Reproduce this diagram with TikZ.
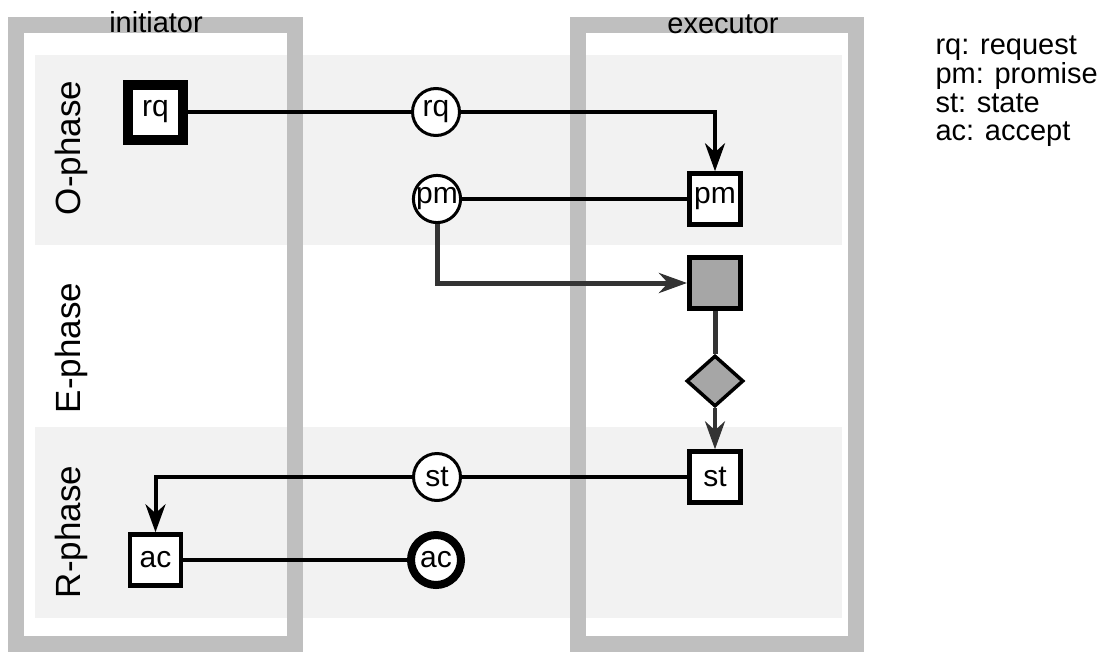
\documentclass[tikz,border=0pt]{standalone}
\usepackage{fontspec}
\setmainfont{Liberation Sans}
\usetikzlibrary{shapes.geometric, arrows.meta}

\definecolor{framegray}{HTML}{BFBFBF}
\definecolor{bandgray}{HTML}{F2F2F2}
\definecolor{taskgray}{HTML}{A6A6A6}

\newcommand{\lbl}{\fontsize{29}{29}\selectfont}
\newcommand{\actlbl}{\fontsize{30}{30}\selectfont}
\tikzstyle{phase} = [font=\fontsize{35}{35}\selectfont, rotate=90, anchor=base]
\tikzstyle{role} = [font=\lbl, anchor=base]
\tikzstyle{act} = [draw, fill=white, line width=4.5pt, minimum size=51pt, inner sep=0pt, font=\actlbl]
\tikzstyle{fact} = [circle, draw, fill=white, line width=3pt, minimum size=47pt, inner sep=0pt, font=\actlbl]
\tikzstyle{flow} = [line width=4pt]
\tikzstyle{arrow} = [flow, -{Stealth[length=28pt,width=20pt,inset=9pt]}]

\begin{document}
\begin{tikzpicture}[x=1pt, y=-1pt]
        \useasboundingbox (0,0) rectangle (1110,653);

        %phase bands
        \fill[bandgray] (35,55) rectangle (842,245);
        \fill[bandgray] (35,427) rectangle (842,618);

        %actor frames
        \draw[framegray, line width=16pt] (16,25) rectangle (295,644);
        \draw[framegray, line width=16pt] (577.5,25) rectangle (855.5,644);
        \node at (156,32) [role] (ini) {initiator};
        \node at (723,33) [role] (exe) {executor};

        %phases
        \node at (80,148) [phase] (o) {O-phase};
        \node at (80,348) [phase] (e) {E-phase};
        \node at (80,532) [phase] (r) {R-phase};

        %acts and facts
        \node at (155.5,112) [act, line width=10pt, minimum size=55pt] (rqi) {rq};
        \node at (436,112) [fact] (rqc) {rq};
        \node at (437,199) [fact] (pmc) {pm};
        \node at (715,199) [act] (pma) {pm};
        \node at (715,283) [act, fill=taskgray, line width=5pt] (exec) {};
        \node at (715,381) [diamond, draw, fill=taskgray, line width=3.5pt, inner sep=0pt,
                minimum width=57pt, minimum height=51pt] (dec) {};
        \node at (715,477) [act] (sta) {st};
        \node at (437,477) [fact] (stc) {st};
        \node at (155.5,560) [act] (aci) {ac};
        \node at (436,560) [fact, line width=8pt, minimum size=50pt] (acc) {ac};

        %legend
        \node at (932,54) [anchor=base west, font=\lbl] (l1) {rq: request};
        \node at (932,83) [anchor=base west, font=\lbl] (l2) {pm: promise};
        \node at (932,112) [anchor=base west, font=\lbl] (l3) {st: state};
        \node at (932,140) [anchor=base west, font=\lbl] (l4) {ac: accept};

        %Arrows
        \draw [flow] (rqi) -- (rqc);
        \draw [arrow] (rqc) -| (pma);
        \draw [flow] (pmc) -- (pma);
        \draw [arrow, black!80, line width=5pt] (pmc) |- (exec);
        \draw [flow, black!80, line width=5pt] (exec) -- (dec);
        \draw [arrow, black!80] (dec) -- (sta);
        \draw [flow] (sta) -- (stc);
        \draw [arrow] (stc) -| (aci);
        \draw [flow] (aci) -- (acc);

    \end{tikzpicture}
\end{document}
